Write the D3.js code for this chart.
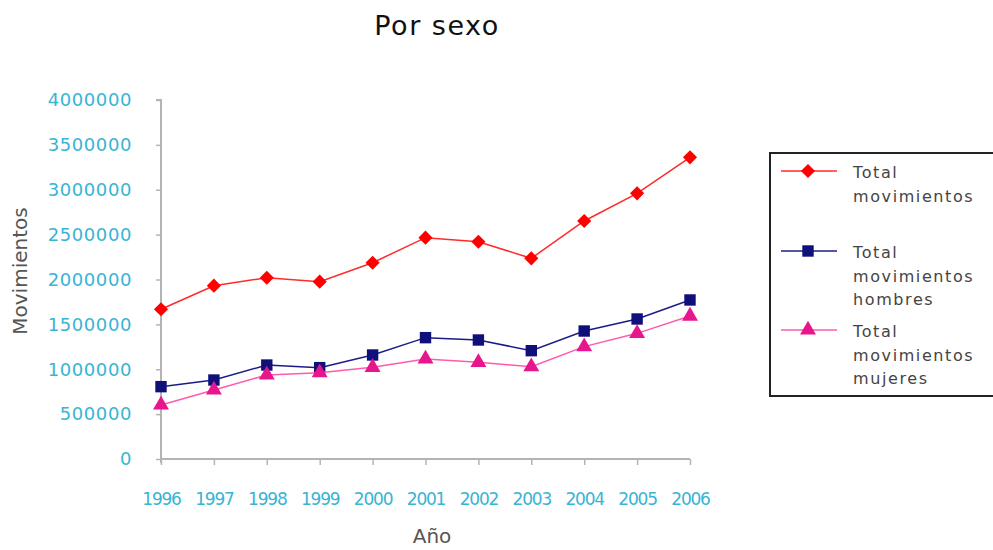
<!DOCTYPE html>
<html>
<head>
<meta charset="utf-8">
<script src="https://cdn.jsdelivr.net/npm/d3@7"></script>
<style>
  body { margin: 0; background: #fff; }
  svg { display: block; font-family: "DejaVu Sans", Verdana, sans-serif; }
</style>
</head>
<body>
<div id="chart"></div>
<script>
// Por sexo - movimientos 1996-2006

const years = [1996, 1997, 1998, 1999, 2000, 2001, 2002, 2003, 2004, 2005, 2006];
const totalMov = [1668000, 1931000, 2020000, 1976000, 2187000, 2466000, 2421000, 2236000, 2652000, 2960000, 3361000];
const totalHombres = [806000, 880000, 1047000, 1018000, 1159000, 1352000, 1326000, 1207000, 1426000, 1560000, 1772000];
const totalMujeres = [602000, 769000, 936000, 962000, 1022000, 1114000, 1077000, 1029000, 1252000, 1400000, 1593000];
const yTicks = [0, 500000, 1000000, 1500000, 2000000, 2500000, 3000000, 3500000, 4000000];

// diamond = square turned 45deg
const series = [
  {name: ["Total", "movimientos"], values: totalMov, line: "#ff2a2a", fill: "#ff0000", symbol: d3.symbolSquare, size: 100, rot: 45},
  {name: ["Total", "movimientos", "hombres"], values: totalHombres, line: "#1c1c88", fill: "#10107a", symbol: d3.symbolSquare, size: 130, rot: 0},
  {name: ["Total", "movimientos", "mujeres"], values: totalMujeres, line: "#ff5aae", fill: "#e8168c", symbol: d3.symbolTriangle, size: 110, rot: 0}
];

const width = 993, height = 550;
const tickColor = "#38b4d4";
const axisColor = "#b4b4b4";

const svg = d3.select("#chart").append("svg")
  .attr("width", width)
  .attr("height", height);

const x = d3.scalePoint()
  .domain(years)
  .range([161, 690]);

const y = d3.scaleLinear()
  .domain([0, 4000000])
  .range([459, 100]);

// title
svg.append("text")
  .attr("x", 437)
  .attr("y", 35)
  .attr("text-anchor", "middle")
  .attr("font-size", 27)
  .attr("letter-spacing", "1.5px")
  .attr("fill", "#111")
  .text("Por sexo");

// y axis
const yAxis = svg.append("g")
  .attr("transform", "translate(161,0)")
  .call(d3.axisLeft(y).tickValues(yTicks).tickSize(5).tickPadding(24).tickFormat(d3.format("d")));
yAxis.select(".domain").attr("stroke", axisColor).attr("stroke-width", 2)
  .attr("d", "M-5,100H0V463");
yAxis.selectAll(".tick line").attr("stroke", axisColor).attr("stroke-width", 1.5);
yAxis.selectAll(".tick text")
  .attr("fill", tickColor)
  .attr("font-size", 18)
  .attr("letter-spacing", "0.6px")
  .attr("font-family", "DejaVu Sans, sans-serif");

// x axis
const xAxis = svg.append("g")
  .attr("transform", "translate(0,459)")
  .call(d3.axisBottom(x).tickSize(6).tickPadding(28));
xAxis.select(".domain").attr("stroke", axisColor).attr("stroke-width", 2)
  .attr("d", "M161,0H690");
xAxis.selectAll(".tick line").attr("stroke", axisColor).attr("stroke-width", 1.5);
xAxis.selectAll(".tick text")
  .attr("fill", tickColor)
  .attr("font-size", 17)
  .attr("letter-spacing", "-1.2px")
  .attr("font-family", "DejaVu Sans, sans-serif");

// axis titles
svg.append("text")
  .attr("transform", "translate(27,271) rotate(-90)")
  .attr("text-anchor", "middle")
  .attr("font-size", 20)
  .attr("fill", "#555")
  .text("Movimientos");

svg.append("text")
  .attr("x", 432)
  .attr("y", 543)
  .attr("text-anchor", "middle")
  .attr("font-size", 20)
  .attr("fill", "#555")
  .text("Año");

// lines + markers
const line = d3.line()
  .x((d, i) => x(years[i]))
  .y(d => y(d));

series.forEach(s => {
  svg.append("path")
    .datum(s.values)
    .attr("fill", "none")
    .attr("stroke", s.line)
    .attr("stroke-width", 1.5)
    .attr("d", line);

  svg.append("g")
    .selectAll("path")
    .data(s.values)
    .join("path")
      .attr("transform", (d, i) => `translate(${x(years[i])},${y(d)}) rotate(${s.rot})`)
      .attr("d", d3.symbol().type(s.symbol).size(s.size))
      .attr("fill", s.fill);
});

// legend
const legend = svg.append("g");
legend.append("rect")
  .attr("x", 770)
  .attr("y", 153)
  .attr("width", 240)
  .attr("height", 243)
  .attr("fill", "#fff")
  .attr("stroke", "#222")
  .attr("stroke-width", 2);

const rowY = [171, 251, 330];
series.forEach((s, k) => {
  const g = legend.append("g").attr("transform", `translate(0,${rowY[k]})`);
  g.append("line")
    .attr("x1", 781).attr("x2", 837)
    .attr("stroke", s.line)
    .attr("stroke-width", 1.5);
  g.append("path")
    .attr("transform", `translate(808,0) rotate(${s.rot})`)
    .attr("d", d3.symbol().type(s.symbol).size(s.size))
    .attr("fill", s.fill);
  const t = g.append("text")
    .attr("x", 853)
    .attr("y", 7)
    .attr("font-size", 16)
    .attr("letter-spacing", "1.6px")
    .attr("fill", "#444");
  s.name.forEach((w, j) => {
    t.append("tspan")
      .attr("x", 853)
      .attr("dy", j === 0 ? 0 : 23.5)
      .text(w);
  });
});
</script>
</body>
</html>
